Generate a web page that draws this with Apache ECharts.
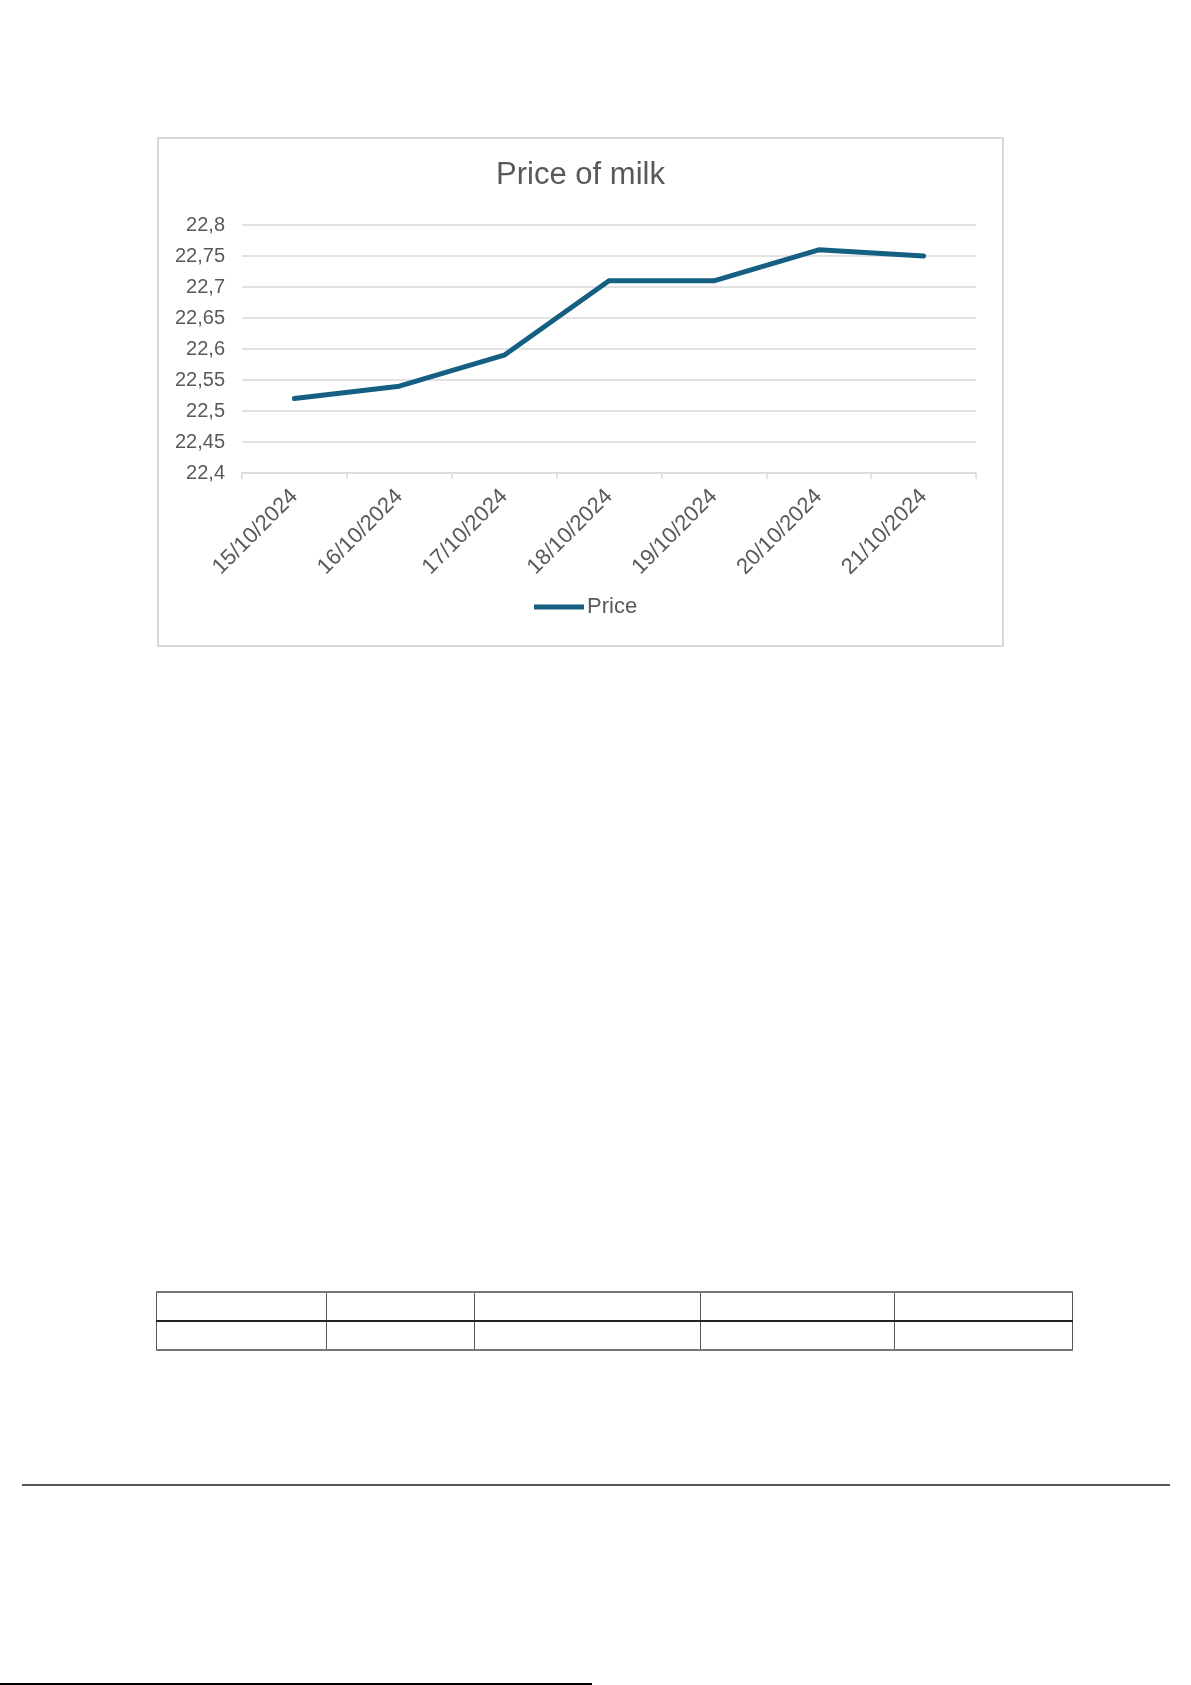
<!DOCTYPE html>
<html>
<head>
<meta charset="utf-8">
<script src="https://cdn.jsdelivr.net/npm/echarts@6/dist/echarts.min.js"></script>
<style>
  html, body { margin: 0; padding: 0; background: #fff; }
  body { width: 1191px; height: 1685px; position: relative; overflow: hidden; font-family: "Liberation Sans", Arial, sans-serif; }
  #chart { position: absolute; left: 157px; top: 137px; width: 843px; height: 506px; border: 2px solid #d9d9d9; }
  #tbl { position: absolute; left: 156px; top: 1291px; border-collapse: collapse; }
  #tbl td { border: 1px solid #555; height: 27px; padding: 0; }
  #tbl tr:first-child td { border-top: 2px solid #777; border-bottom: 2px solid #222; }
  #tbl tr:last-child td { border-bottom: 2px solid #777; }
  #hr { position: absolute; left: 22px; top: 1484px; width: 1148px; height: 2px; background: #555; }
  #foot { position: absolute; left: 0; top: 1683px; width: 592px; height: 2px; background: #000; }
</style>
</head>
<body>
<div id="chart"></div>
<table id="tbl">
  <tr><td style="width:169px"></td><td style="width:147px"></td><td style="width:225px"></td><td style="width:193px"></td><td style="width:177px"></td></tr>
  <tr><td></td><td></td><td></td><td></td><td></td></tr>
</table>
<div id="hr"></div>
<div id="foot"></div>
<script>
const titleText = "Price of milk";
const seriesName = "Price";
const categories = ["15/10/2024", "16/10/2024", "17/10/2024", "18/10/2024", "19/10/2024", "20/10/2024", "21/10/2024"];
const prices = [22.52, 22.54, 22.59, 22.71, 22.71, 22.76, 22.75];
const yMin = 22.4, yMax = 22.8, yStep = 0.05;

const chart = echarts.init(document.getElementById('chart'));
const grey = '#595959';
chart.setOption({
  animation: false,
  title: {
    text: titleText, left: 'center', top: 16,
    textStyle: { fontFamily: 'Liberation Sans', fontSize: 31, fontWeight: 'normal', color: grey }
  },
  legend: {
    data: [seriesName], bottom: 22, left: 370,
    itemWidth: 50, itemHeight: 5, itemGap: 0,
    icon: 'rect',
    textStyle: { fontFamily: 'Liberation Sans', fontSize: 22, color: grey, padding: [0, 0, 0, -2] }
  },
  grid: { left: 83, right: 26, top: 86, bottom: 172 },
  xAxis: {
    type: 'category', data: categories, boundaryGap: true,
    axisLine: { lineStyle: { color: '#d9d9d9', width: 1.5 } },
    axisTick: { show: true, length: 6, lineStyle: { color: '#d9d9d9', width: 1.5 } },
    axisLabel: { rotate: 45, fontFamily: 'Liberation Sans', fontSize: 22, color: grey, margin: 20, interval: 0 }
  },
  yAxis: {
    type: 'value', min: yMin, max: yMax, interval: yStep,
    axisLine: { show: false }, axisTick: { show: false },
    splitLine: { lineStyle: { color: '#d9d9d9', width: 1.5 } },
    axisLabel: {
      fontFamily: 'Liberation Sans', fontSize: 20, color: grey, margin: 17,
      formatter: v => String(Math.round(v * 100) / 100).replace('.', ',')
    }
  },
  series: [{
    name: seriesName, type: 'line', data: prices,
    symbol: 'none', smooth: false,
    lineStyle: { color: '#156082', width: 5, cap: 'round', join: 'round' },
    itemStyle: { color: '#156082' }
  }]
});
</script>
</body>
</html>
